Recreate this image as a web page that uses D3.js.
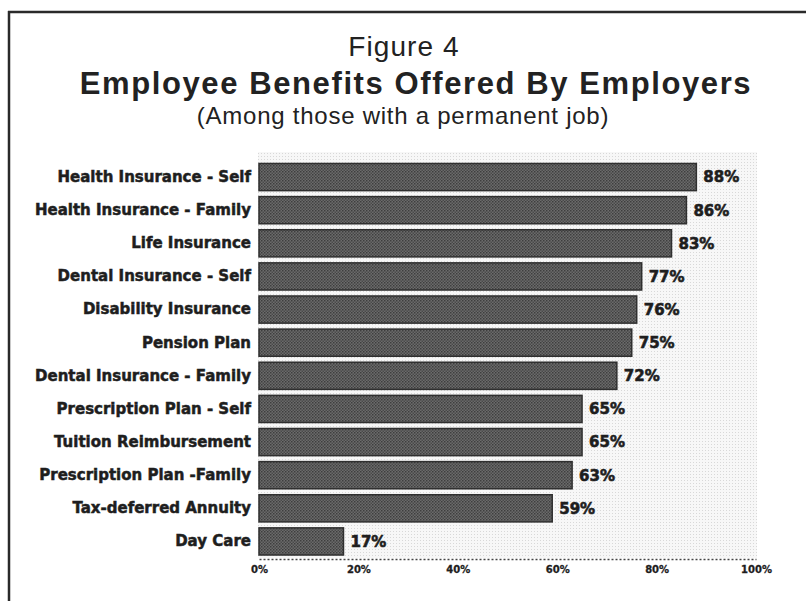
<!DOCTYPE html>
<html>
<head>
<meta charset="utf-8">
<script src="https://cdn.jsdelivr.net/npm/d3@7"></script>
<style>
  html, body { margin: 0; padding: 0; background: #fff; }
  svg { display: block; }
</style>
</head>
<body>
<svg id="chart" width="806" height="601"></svg>
<script>
// Benefit categories, top to bottom
const categories = [
  "Health Insurance - Self",
  "Health Insurance - Family",
  "Life Insurance",
  "Dental Insurance - Self",
  "Disability Insurance",
  "Pension Plan",
  "Dental Insurance - Family",
  "Prescription Plan - Self",
  "Tuition Reimbursement",
  "Prescription Plan -Family",
  "Tax-deferred Annuity",
  "Day Care"
];
// Share of employers offering each benefit (%)
const values = [88, 86, 83, 77, 76, 75, 72, 65, 65, 63, 59, 17];
// Axis ticks (%)
const tickValues = [0, 20, 40, 60, 80, 100];

const titleLines = [
  "Figure 4",
  "Employee Benefits Offered By Employers",
  "(Among those with a permanent job)"
];

const svg = d3.select("#chart");
const defs = svg.append("defs");

// Halftone screens for bars and the plot background
const barTone = defs.append("pattern")
  .attr("id", "barTone").attr("patternUnits", "userSpaceOnUse")
  .attr("width", 3).attr("height", 3);
barTone.append("rect").attr("width", 3).attr("height", 3).attr("fill", "#6b6b6b");
barTone.append("rect").attr("x", 0).attr("y", 0).attr("width", 1.5).attr("height", 1.5).attr("fill", "#3e3e3e");
barTone.append("rect").attr("x", 1.5).attr("y", 1.5).attr("width", 1.5).attr("height", 1.5).attr("fill", "#4a4a4a");

const bgTone = defs.append("pattern")
  .attr("id", "bgTone").attr("patternUnits", "userSpaceOnUse")
  .attr("width", 3).attr("height", 3);
bgTone.append("rect").attr("width", 3).attr("height", 3).attr("fill", "#f7f7f7");
bgTone.append("rect").attr("x", 0).attr("y", 0).attr("width", 1).attr("height", 1).attr("fill", "#d8d8d8");

// Scales
const x = d3.scaleLinear().domain([0, 100]).range([259, 756]);
const y = d3.scaleBand().domain(categories).range([160.5, 558]).paddingInner(0.18).paddingOuter(0.09);

// Frame
svg.append("line").attr("x1", 8).attr("x2", 806).attr("y1", 12).attr("y2", 12)
  .attr("stroke", "#2a2a2a").attr("stroke-width", 2.5);
svg.append("line").attr("x1", 9).attr("x2", 9).attr("y1", 11).attr("y2", 601)
  .attr("stroke", "#2a2a2a").attr("stroke-width", 2.5);

// Titles
const titleX = [404, 416, 403];
const titleY = [56, 94, 124];
const titleStyle = [
  { size: 28, weight: "normal", spacing: 1.1 },
  { size: 31, weight: "bold", spacing: 1.6 },
  { size: 24, weight: "normal", spacing: 0.75 }
];
svg.append("g").selectAll("text").data(titleLines).join("text")
  .attr("x", (d, i) => titleX[i])
  .attr("y", (d, i) => titleY[i])
  .attr("text-anchor", "middle")
  .attr("font-family", "'Liberation Sans', Arial, sans-serif")
  .attr("font-size", (d, i) => titleStyle[i].size)
  .attr("font-weight", (d, i) => titleStyle[i].weight)
  .attr("letter-spacing", (d, i) => titleStyle[i].spacing)
  .attr("fill", "#222")
  .text(d => d);

// Plot background
svg.append("rect")
  .attr("x", x(0) - 1).attr("y", 152)
  .attr("width", x(100) - x(0) + 2).attr("height", 406)
  .attr("fill", "url(#bgTone)");

// Bars
svg.append("g").selectAll("rect").data(values).join("rect")
  .attr("x", x(0))
  .attr("y", (d, i) => y(categories[i]))
  .attr("width", d => x(d) - x(0))
  .attr("height", y.bandwidth())
  .attr("fill", "url(#barTone)")
  .attr("stroke", "#2f2f2f")
  .attr("stroke-width", 1.5);

// Value labels
svg.append("g").selectAll("text").data(values).join("text")
  .attr("x", d => x(d) + 7)
  .attr("y", (d, i) => y(categories[i]) + y.bandwidth() / 2)
  .attr("dy", "0.36em")
  .attr("font-family", "'DejaVu Sans', sans-serif")
  .attr("font-weight", "bold")
  .attr("font-size", 15)
  .attr("fill", "#1e1e1e")
  .attr("stroke", "#1e1e1e")
  .attr("stroke-width", 0.6)
  .text(d => d + "%");

// Category axis labels
const yAxis = d3.axisLeft(y).tickSize(0).tickPadding(8);
const yg = svg.append("g").attr("transform", `translate(${x(0)},0)`).call(yAxis);
yg.select(".domain").remove();
yg.selectAll("text")
  .attr("font-family", "'DejaVu Sans', sans-serif")
  .attr("font-weight", "bold")
  .attr("font-size", 15)
  .attr("fill", "#1e1e1e")
  .attr("stroke", "#1e1e1e")
  .attr("stroke-width", 0.5);

// Percentage axis
const xAxis = d3.axisBottom(x).tickValues(tickValues).tickSize(0).tickPadding(7)
  .tickFormat(d => d + "%");
const xg = svg.append("g").attr("transform", "translate(0,559)").call(xAxis);
xg.select(".domain")
  .attr("stroke", "#444").attr("stroke-width", 1.5).attr("stroke-dasharray", "2,2");
xg.selectAll("text")
  .attr("font-family", "'DejaVu Sans', sans-serif")
  .attr("font-weight", "bold")
  .attr("font-size", 10)
  .attr("fill", "#1e1e1e")
  .attr("stroke", "#1e1e1e")
  .attr("stroke-width", 0.3);
</script>
</body>
</html>
